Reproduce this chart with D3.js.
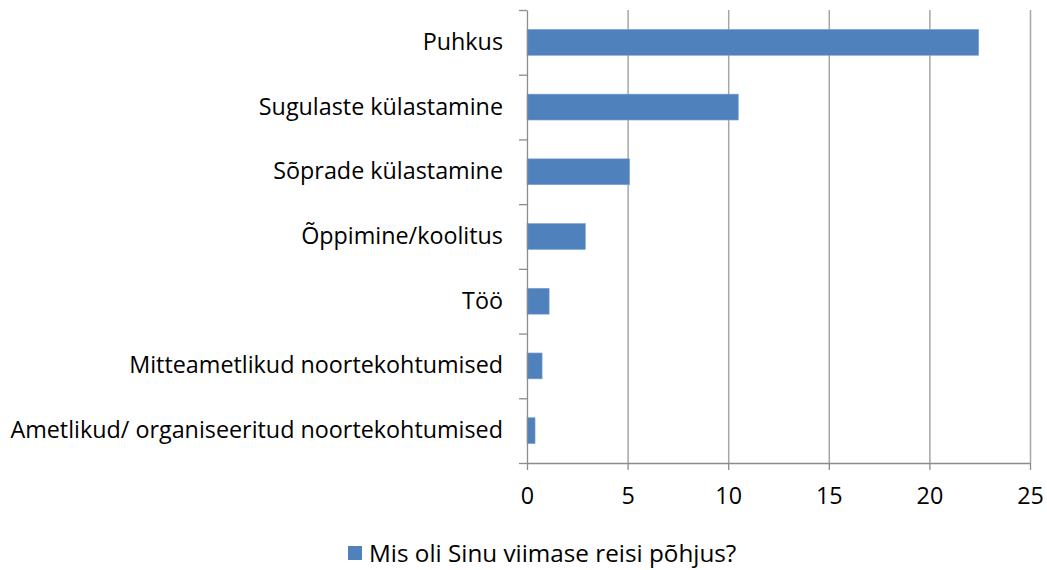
<!DOCTYPE html>
<html>
<head>
<meta charset="utf-8">
<script src="https://cdn.jsdelivr.net/npm/d3@7"></script>
<style>
  body { margin: 0; background: #fff; }
  svg { display: block; }
</style>
</head>
<body>
<div id="chart"></div>
<script>
const categories = [
	"Puhkus",
	"Sugulaste külastamine",
	"Sõprade külastamine",
	"Õppimine/koolitus",
	"Töö",
	"Mitteametlikud noortekohtumised",
	"Ametlikud/ organiseeritud noortekohtumised"
];
const values = [22.45, 10.5, 5.1, 2.9, 1.1, 0.75, 0.4];
const xTicks = [0, 5, 10, 15, 20, 25];
const seriesName = "Mis oli Sinu viimase reisi põhjus?";

const W = 1047, H = 570;
const margin = { top: 10, right: 17, bottom: 107, left: 527 };
const width = W - margin.left - margin.right;
const height = H - margin.top - margin.bottom;
const fontFamily = "'Open Sans', 'Noto Sans', sans-serif";
const barColor = '#4f81bd';
const gridColor = '#a6a6a6';

const svg = d3.select('#chart').append('svg')
	.attr('width', W)
	.attr('height', H)
	.style('font-family', fontFamily);

// pick a font size so the longest label spans like the original (~493px)
const probe = svg.append('text').style('font-size', '20px').text(categories[6]);
const probeW = probe.node().getComputedTextLength();
probe.remove();
const labelSize = Math.min(24, 20 * 493 / probeW);

const chart = svg.append('g')
	.attr('transform', `translate(${margin.left}, ${margin.top})`);

const xScale = d3.scaleLinear()
	.domain([0, 25])
	.range([0, width]);

const yScale = d3.scaleBand()
	.domain(categories)
	.range([0, height])
	.paddingInner(0.6)
	.paddingOuter(0.3);

const yEdges = d3.scaleLinear()
	.domain([0, categories.length])
	.range([0, height]);

// vertical grid lines
chart.append('g')
	.attr('class', 'grid')
	.call(d3.axisBottom(xScale)
		.tickValues(xTicks.slice(1))
		.tickSize(height)
		.tickFormat(''))
	.call(g => g.select('.domain').remove())
	.call(g => g.selectAll('line')
		.attr('stroke', gridColor)
		.attr('stroke-width', 1.5));

// bars
chart.selectAll('.bar')
	.data(categories)
	.enter()
	.append('rect')
		.attr('class', 'bar')
		.attr('x', xScale(0))
		.attr('y', (d) => yScale(d))
		.attr('width', (d, i) => xScale(values[i]) - xScale(0))
		.attr('height', yScale.bandwidth())
		.attr('fill', barColor)
		.attr('stroke', '#7ea3d3')
		.attr('stroke-width', 0.6);

// category boundary ticks on the left axis
chart.append('g')
	.attr('class', 'axis')
	.call(d3.axisLeft(yEdges)
		.tickValues(d3.range(categories.length + 1))
		.tickSize(8)
		.tickSizeOuter(0)
		.tickFormat(''))
	.call(g => g.selectAll('path, line')
		.attr('stroke', '#8c8c8c')
		.attr('stroke-width', 1.3));

// category labels
chart.append('g')
	.attr('class', 'labels')
	.call(d3.axisLeft(yScale)
		.tickSize(0)
		.tickPadding(24))
	.call(g => g.select('.domain').remove())
	.call(g => g.selectAll('text')
		.attr('fill', '#000')
		.style('font-family', fontFamily)
		.style('font-size', labelSize + 'px'));

// x axis
chart.append('g')
	.attr('class', 'axis')
	.attr('transform', `translate(0, ${height})`)
	.call(d3.axisBottom(xScale)
		.tickValues(xTicks)
		.tickSize(7)
		.tickSizeOuter(0)
		.tickPadding(17))
	.call(g => g.selectAll('path, line')
		.attr('stroke', '#8c8c8c')
		.attr('stroke-width', 1.3))
	.call(g => g.selectAll('text')
		.attr('fill', '#000')
		.style('font-family', fontFamily)
		.style('font-size', labelSize + 'px'));

// legend
const legend = svg.append('g')
	.attr('class', 'legend')
	.attr('transform', `translate(348, 553)`);

legend.append('rect')
	.attr('x', 0)
	.attr('y', -7)
	.attr('width', 14)
	.attr('height', 14)
	.attr('fill', barColor);

legend.append('text')
	.attr('x', 21)
	.attr('y', 0)
	.attr('dy', '0.35em')
	.attr('fill', '#000')
	.style('font-size', (labelSize * 1.04) + 'px')
	.text(seriesName);
</script>
</body>
</html>
